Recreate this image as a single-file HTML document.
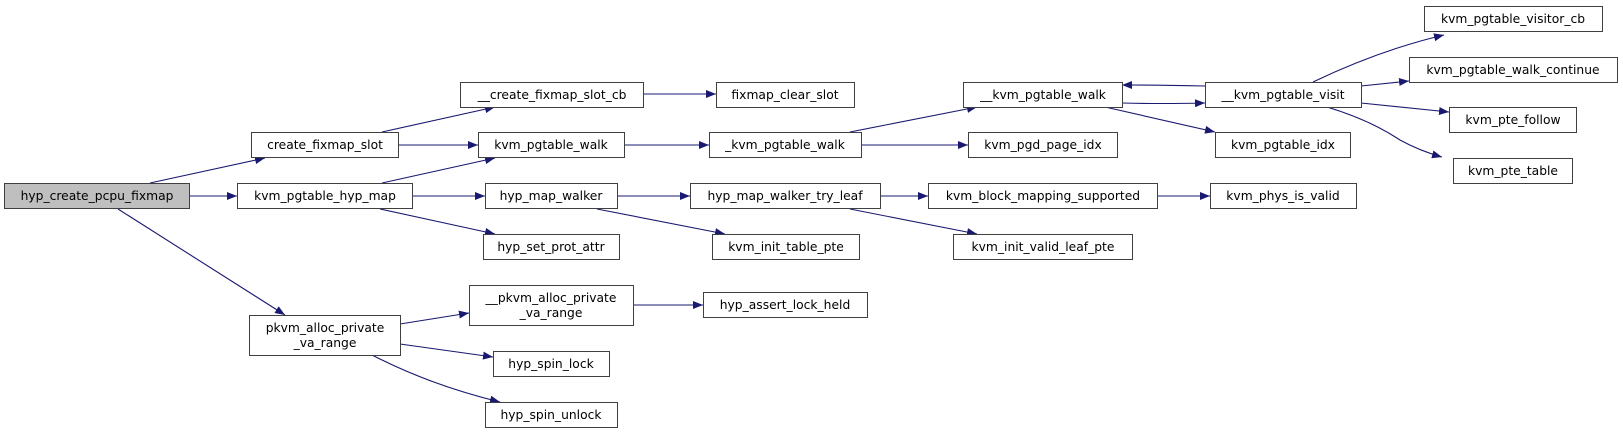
<!DOCTYPE html>
<html><head><meta charset="utf-8"><style>
html,body{margin:0;padding:0;background:#fff;}
svg text{font-family:"DejaVu Sans","Liberation Sans",sans-serif;font-size:12.3px;fill:#000;}
</style></head><body>
<svg width="1623" height="433" viewBox="0 0 1623 433" xmlns="http://www.w3.org/2000/svg">
<defs><marker id="a" markerWidth="11" markerHeight="8" refX="10" refY="4" orient="auto" markerUnits="userSpaceOnUse"><path d="M0,0 L10,4 L0,8 z" fill="#191970"/></marker></defs>
<g fill="none" stroke="#191970" stroke-width="1.1" marker-end="url(#a)">
<path d="M150,183 L265,158"/>
<path d="M189,196 L237,196"/>
<path d="M118,209 L285,315"/>
<path d="M382,132 L495,107"/>
<path d="M398,145 L478,145"/>
<path d="M382,183 L495,158"/>
<path d="M412,196 L485,196"/>
<path d="M380,209 L495,234"/>
<path d="M400,324 L469,313"/>
<path d="M400,344 L493,357"/>
<path d="M372,355 Q430,385 500,402"/>
<path d="M633,305 L703,305"/>
<path d="M643,94 L716,94"/>
<path d="M624,145 L709,145"/>
<path d="M617,196 L690,196"/>
<path d="M597,209 L725,234"/>
<path d="M850,132 L977,107"/>
<path d="M861,145 L968,145"/>
<path d="M880,196 L928,196"/>
<path d="M850,209 L977,234"/>
<path d="M1122,103 Q1160,104 1205,103"/>
<path d="M1205,86 Q1160,85 1122,85"/>
<path d="M1105,107 L1215,132"/>
<path d="M1157,196 L1210,196"/>
<path d="M1313,82 Q1380,50 1444,35"/>
<path d="M1361,86 L1409,81"/>
<path d="M1361,103 L1449,112"/>
<path d="M1327,107 Q1370,120 1400,140 Q1420,151 1442,157"/>
</g>
<g stroke="#404040" stroke-width="1" fill="#fff">
<rect x="4.5" y="183.5" width="185" height="25" fill="#bfbfbf"/>
<rect x="251.5" y="132.5" width="147" height="25"/>
<rect x="237.5" y="183.5" width="175" height="25"/>
<rect x="249.5" y="315.5" width="151" height="40"/>
<rect x="460.5" y="82.5" width="183" height="25"/>
<rect x="478.5" y="132.5" width="146" height="25"/>
<rect x="485.5" y="183.5" width="132" height="25"/>
<rect x="483.5" y="234.5" width="136" height="25"/>
<rect x="469.5" y="285.5" width="164" height="40"/>
<rect x="493.5" y="351.5" width="116" height="25"/>
<rect x="485.5" y="402.5" width="132" height="25"/>
<rect x="716.5" y="82.5" width="138" height="25"/>
<rect x="963.5" y="82.5" width="159" height="25"/>
<rect x="709.5" y="132.5" width="152" height="25"/>
<rect x="968.5" y="132.5" width="149" height="25"/>
<rect x="690.5" y="183.5" width="190" height="25"/>
<rect x="928.5" y="183.5" width="229" height="25"/>
<rect x="712.5" y="234.5" width="147" height="25"/>
<rect x="953.5" y="234.5" width="179" height="25"/>
<rect x="703.5" y="292.5" width="164" height="25"/>
<rect x="1424.5" y="6.5" width="178" height="25"/>
<rect x="1409.5" y="57.5" width="208" height="25"/>
<rect x="1205.5" y="82.5" width="156" height="25"/>
<rect x="1449.5" y="107.5" width="127" height="25"/>
<rect x="1215.5" y="132.5" width="135" height="25"/>
<rect x="1453.5" y="158.5" width="119" height="25"/>
<rect x="1210.5" y="183.5" width="146" height="25"/>
</g>
<g text-anchor="middle">
<text x="97" y="200">hyp_create_pcpu_fixmap</text>
<text x="325" y="149">create_fixmap_slot</text>
<text x="325" y="200">kvm_pgtable_hyp_map</text>
<text x="325" y="332">pkvm_alloc_private</text>
<text x="325" y="347">_va_range</text>
<text x="552" y="99">__create_fixmap_slot_cb</text>
<text x="551" y="149">kvm_pgtable_walk</text>
<text x="551" y="200">hyp_map_walker</text>
<text x="551" y="251">hyp_set_prot_attr</text>
<text x="551" y="302">__pkvm_alloc_private</text>
<text x="551" y="317">_va_range</text>
<text x="551" y="368">hyp_spin_lock</text>
<text x="551" y="419">hyp_spin_unlock</text>
<text x="785" y="99">fixmap_clear_slot</text>
<text x="1043" y="99">__kvm_pgtable_walk</text>
<text x="785" y="149">_kvm_pgtable_walk</text>
<text x="1043" y="149">kvm_pgd_page_idx</text>
<text x="785" y="200">hyp_map_walker_try_leaf</text>
<text x="1043" y="200">kvm_block_mapping_supported</text>
<text x="786" y="251">kvm_init_table_pte</text>
<text x="1043" y="251">kvm_init_valid_leaf_pte</text>
<text x="785" y="309">hyp_assert_lock_held</text>
<text x="1513" y="23">kvm_pgtable_visitor_cb</text>
<text x="1513" y="74">kvm_pgtable_walk_continue</text>
<text x="1283" y="99">__kvm_pgtable_visit</text>
<text x="1513" y="124">kvm_pte_follow</text>
<text x="1283" y="149">kvm_pgtable_idx</text>
<text x="1513" y="175">kvm_pte_table</text>
<text x="1283" y="200">kvm_phys_is_valid</text>
</g>
</svg>
</body></html>
